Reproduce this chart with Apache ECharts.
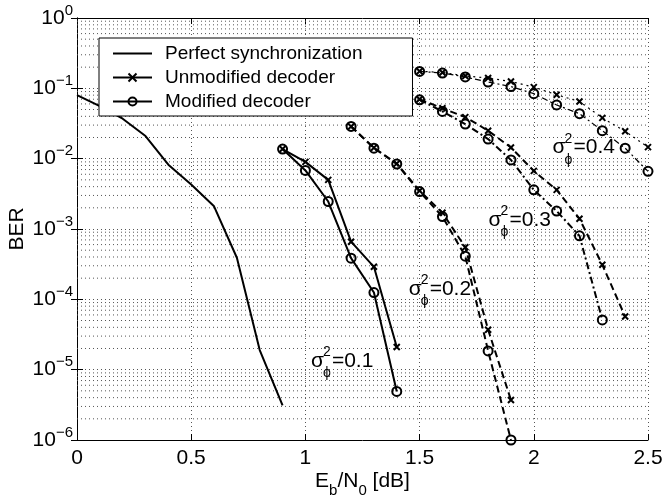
<!DOCTYPE html>
<html>
<head>
<meta charset="utf-8">
<script src="https://cdn.jsdelivr.net/npm/echarts@6/dist/echarts.min.js"></script>
<style>
html,body{margin:0;padding:0;background:#fff;}
#c{width:663px;height:499px;}
</style>
</head>
<body>
<div id="c"></div>
<script>
// ---- data ----
const ebn0Perfect = [0, 0.1, 0.2, 0.3, 0.4, 0.5, 0.6, 0.7, 0.8, 0.9];
const berPerfect  = [0.08, 0.056, 0.037, 0.021, 0.0082, 0.0043, 0.0021, 3.9e-4, 1.9e-5, 3.1e-6];

const ebn0S1 = [0.9, 1.0, 1.1, 1.2, 1.3, 1.4];
const berS1Unmod = [0.0137, 0.0090, 0.0050, 6.6e-4, 2.9e-4, 2.1e-5];
const berS1Mod   = [0.0137, 0.0068, 0.00246, 3.85e-4, 1.25e-4, 4.9e-6];

const ebn0S2 = [1.2, 1.3, 1.4, 1.5, 1.6, 1.7, 1.8, 1.9];
const berS2Unmod = [0.0287, 0.0143, 0.0085, 0.0035, 0.0017, 5.5e-4, 3.7e-5, 3.7e-6];
const berS2Mod   = [0.0287, 0.0141, 0.0084, 0.0034, 0.0015, 4.1e-4, 1.85e-5, 1.0e-6];

const ebn0S3Unmod = [1.5, 1.6, 1.7, 1.8, 1.9, 2.0, 2.1, 2.2, 2.3, 2.4];
const berS3Unmod  = [0.07, 0.052, 0.039, 0.025, 0.0144, 0.0067, 0.0036, 0.0014, 3.1e-4, 5.7e-5];
const ebn0S3Mod   = [1.5, 1.6, 1.7, 1.8, 1.9, 2.0, 2.1, 2.2, 2.3];
const berS3Mod    = [0.0687, 0.047, 0.031, 0.019, 0.0096, 0.0036, 0.0018, 8.0e-4, 5.1e-5];

const ebn0S4 = [1.5, 1.6, 1.7, 1.8, 1.9, 2.0, 2.1, 2.2, 2.3, 2.4, 2.5];
const berS4Unmod = [0.175, 0.168, 0.15, 0.14, 0.125, 0.104, 0.081, 0.065, 0.038, 0.0245, 0.0146];
const berS4Mod   = [0.174, 0.165, 0.145, 0.123, 0.106, 0.084, 0.058, 0.0436, 0.025, 0.0141, 0.0066];

const xTicks = [0, 0.5, 1, 1.5, 2, 2.5];
const yDecades = [-6, -5, -4, -3, -2, -1, 0];
const legendNames = ['Perfect synchronization', 'Unmodified decoder', 'Modified decoder'];
// sigma labels: [text value, anchor x, anchor y]
const sigmaLabels = [['0.1', 1.024, 1.05e-5], ['0.2', 1.452, 1.12e-4], ['0.3', 1.802, 1.07e-3], ['0.4', 2.082, 0.0114]];

// ---- helpers ----
const FONT = 'Liberation Sans, Arial, Helvetica, sans-serif';
const pairs = (xs, ys) => xs.map((x, i) => [x, ys[i]]);
const XPATH = 'path://M0,0L10,10M10,0L0,10';
function unmodSeries(name, xs, ys, dash, width) {
  return {
    name: name, type: 'line', data: pairs(xs, ys),
    symbol: XPATH, symbolSize: 6,
    itemStyle: {color: '#000', borderColor: '#000', borderWidth: 2},
    lineStyle: {color: '#000', width: width, type: dash},
    z: 3
  };
}
function modSeries(name, xs, ys, dash, width) {
  return {
    name: name, type: 'line', data: pairs(xs, ys),
    symbol: 'circle', symbolSize: 9,
    itemStyle: {color: 'rgba(0,0,0,0)', borderColor: '#000', borderWidth: 2},
    lineStyle: {color: '#000', width: width, type: dash},
    z: 3
  };
}
const minorVals = [];
yDecades.slice(0, -1).forEach(d => { for (let m = 2; m <= 9; m++) minorVals.push(m * Math.pow(10, d)); });

const gridLineStyle = {type: [1, 3], color: '#555', width: 1};
const xMin = xTicks[0], xMax = xTicks[xTicks.length - 1];

const minorSeries = minorVals.map((v, i) => ({
  name: '_minor' + i, type: 'line', data: [[xMin, v], [xMax, v]],
  symbol: 'none', silent: true, lineStyle: gridLineStyle, z: 1, legendHoverLink: false
}));

const chart = echarts.init(document.getElementById('c'), null, {renderer: 'canvas'});
const option = {
  animation: false,
  backgroundColor: '#fff',
  textStyle: {fontFamily: FONT, color: '#000'},
  grid: {left: 77, right: 15, top: 18, bottom: 59, containLabel: false, outerBoundsMode: 'none'},
  legend: {
    data: [
      {name: legendNames[0], itemStyle: {color: 'rgba(0,0,0,0)', borderColor: 'rgba(0,0,0,0)', borderWidth: 0}},
      {name: legendNames[1]},
      {name: legendNames[2]}
    ],
    orient: 'vertical', left: 99, top: 38,
    padding: [6, 50, 5, 13],
    itemGap: 5, itemWidth: 39, itemHeight: 10,
    backgroundColor: '#fff', borderColor: '#000', borderWidth: 1,
    textStyle: {fontFamily: FONT, fontSize: 19, color: '#000', padding: [0, 0, 0, 8]},
    selectedMode: false, z: 10
  },
  xAxis: [{
    type: 'value', min: xMin, max: xMax, interval: 0.5,
    position: 'bottom',
    axisLine: {show: true, lineStyle: {color: '#000', width: 1}},
    axisTick: {show: true, inside: true, length: 6, lineStyle: {color: '#000'}},
    axisLabel: {fontFamily: FONT, fontSize: 21, color: '#000', margin: 8,
      formatter: v => String(v)},
    splitLine: {show: true, lineStyle: gridLineStyle},
    name: '{n|E}{s|b}{n|/N}{s|0}{n| [dB]}',
    nameLocation: 'middle', nameGap: 31, nameMoveOverlap: false,
    nameTextStyle: {rich: {
      n: {fontFamily: FONT, fontSize: 21, color: '#000', lineHeight: 24, verticalAlign: 'top'},
      s: {fontFamily: FONT, fontSize: 15, color: '#000', lineHeight: 24, verticalAlign: 'top', padding: [12, 0, 0, 0]}
    }}
  }, {
    type: 'value', min: xMin, max: xMax, interval: 0.5,
    position: 'top',
    axisLine: {show: true, lineStyle: {color: '#000', width: 1}},
    axisTick: {show: true, inside: true, length: 6, lineStyle: {color: '#000'}},
    axisLabel: {show: false}, splitLine: {show: false}
  }],
  yAxis: [{
    type: 'log', logBase: 10, min: Math.pow(10, yDecades[0]), max: Math.pow(10, yDecades[yDecades.length - 1]),
    position: 'left',
    axisLine: {show: true, lineStyle: {color: '#000', width: 1}},
    axisTick: {show: true, inside: true, length: 6, lineStyle: {color: '#000'}},
    axisLabel: {
      margin: 4,
      formatter: v => {
        const e = Math.round(Math.log10(v));
        return '{b|10}{e|' + (e < 0 ? '\u2212' + (-e) : String(e)) + '}';
      },
      rich: {
        b: {fontFamily: FONT, fontSize: 21, color: '#000'},
        e: {fontFamily: FONT, fontSize: 15, color: '#000', padding: [0, 0, 15, 0]}
      }
    },
    splitLine: {show: true, lineStyle: gridLineStyle},
    name: 'BER', nameLocation: 'middle', nameGap: 49, nameMoveOverlap: false,
    nameTextStyle: {fontFamily: FONT, fontSize: 21, color: '#000'}
  }, {
    type: 'log', logBase: 10, min: Math.pow(10, yDecades[0]), max: Math.pow(10, yDecades[yDecades.length - 1]),
    position: 'right',
    axisLine: {show: true, lineStyle: {color: '#000', width: 1}},
    axisTick: {show: true, inside: true, length: 6, lineStyle: {color: '#000'}},
    axisLabel: {show: false}, splitLine: {show: false}
  }],
  series: minorSeries.concat([
    {
      name: 'Perfect synchronization', type: 'line', data: pairs(ebn0Perfect, berPerfect),
      symbol: 'none', lineStyle: {color: '#000', width: 2, type: 'solid'},
      itemStyle: {color: '#000'}, z: 3
    },
    unmodSeries('Unmodified decoder', ebn0S1, berS1Unmod, 'solid', 2),
    modSeries('Modified decoder', ebn0S1, berS1Mod, 'solid', 2),
    unmodSeries('Unmodified σ²=0.2', ebn0S2, berS2Unmod, [7, 4], 2),
    modSeries('Modified σ²=0.2', ebn0S2, berS2Mod, [7, 4], 2),
    unmodSeries('Unmodified σ²=0.3', ebn0S3Unmod, berS3Unmod, [7, 4], 2),
    modSeries('Modified σ²=0.3', ebn0S3Mod, berS3Mod, [7, 3, 2, 3], 2),
    unmodSeries('Unmodified σ²=0.4', ebn0S4, berS4Unmod, [2, 4], 1.2),
    modSeries('Modified σ²=0.4', ebn0S4, berS4Mod, [6, 3, 2, 3], 1.2)
  ])
};
chart.setOption(option);

// sigma annotations positioned through the chart's own scales
const graphics = sigmaLabels.map(([txt, x, y]) => {
  const p = chart.convertToPixel({xAxisIndex: 0, yAxisIndex: 0}, [x, y]);
  const big = {fontFamily: FONT, fontSize: 21, fill: '#000'};
  const small = {fontFamily: FONT, fontSize: 14, fill: '#000'};
  return {
    type: 'group', x: p[0], y: p[1], z: 20,
    children: [
      {type: 'text', x: 0, y: -7, style: Object.assign({text: 'σ', verticalAlign: 'middle', align: 'left'}, big)},
      {type: 'text', x: 12, y: -16, style: Object.assign({text: '2', verticalAlign: 'middle', align: 'left'}, small)},
      {type: 'text', x: 12, y: 5, style: Object.assign({text: '\u03D5', verticalAlign: 'middle', align: 'left'}, small)},
      {type: 'text', x: 21, y: -7, style: Object.assign({text: '=' + txt, verticalAlign: 'middle', align: 'left'}, big)}
    ]
  };
});
chart.setOption({graphic: graphics});
</script>
</body>
</html>
